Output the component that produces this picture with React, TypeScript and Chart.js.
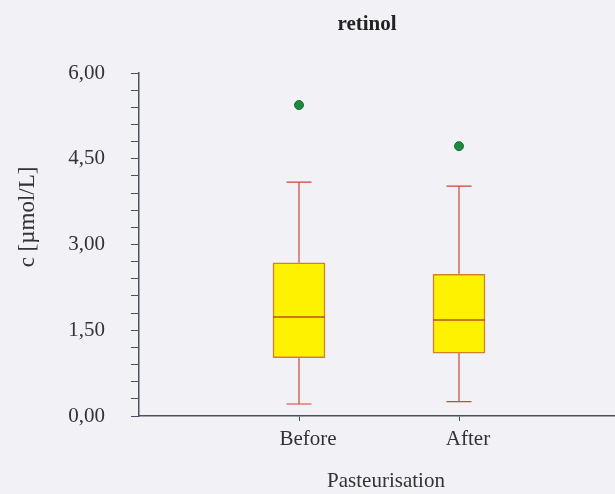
import React, { useEffect, useRef } from "react";
import { Chart, registerables } from "chart.js";

Chart.register(...registerables);

// Box-plot summary per group
const categories = ["Before", "After"];
const whiskerLow = [0.21, 0.25];
const quartile1 = [1.02, 1.1];
const medians = [1.73, 1.68];
const quartile3 = [2.68, 2.48];
const whiskerHigh = [4.09, 4.02];
const outliers = [5.44, 4.72];

const chartTitle = "retinol";
const xTitle = "Pasteurisation";
const yTitle = "c [µmol/L]";

const FONT = "'Liberation Serif', 'Times New Roman', serif";
const AXIS_COLOR = "#4a5260";
const TEXT_COLOR = "#333333";
const BG = "#f1f1f6";

const fmt = (v: number) => v.toFixed(2).replace(".", ",");

const boxPlugin = {
  id: "boxExtras",
  beforeDraw(chart: any) {
    const { ctx, width, height } = chart;
    ctx.save();
    ctx.fillStyle = BG;
    ctx.fillRect(0, 0, width, height);
    ctx.restore();
  },
  beforeDatasetsDraw(chart: any) {
    const { ctx } = chart;
    const xs = chart.scales.x;
    const ys = chart.scales.y;
    ctx.save();
    ctx.strokeStyle = "#d0453a";
    ctx.lineWidth = 1.2;
    categories.forEach((_, i) => {
      const x = xs.getPixelForValue(i + 1);
      const yLo = ys.getPixelForValue(whiskerLow[i]);
      const yHi = ys.getPixelForValue(whiskerHigh[i]);
      const yQ1 = ys.getPixelForValue(quartile1[i]);
      const yQ3 = ys.getPixelForValue(quartile3[i]);
      const cap = 12.5;
      ctx.beginPath();
      ctx.moveTo(x, yQ3);
      ctx.lineTo(x, yHi);
      ctx.moveTo(x - cap, yHi);
      ctx.lineTo(x + cap, yHi);
      ctx.moveTo(x, yQ1);
      ctx.lineTo(x, yLo);
      ctx.moveTo(x - cap, yLo);
      ctx.lineTo(x + cap, yLo);
      ctx.stroke();
    });
    ctx.restore();
  },
  afterDatasetsDraw(chart: any) {
    const { ctx } = chart;
    const xs = chart.scales.x;
    const ys = chart.scales.y;
    ctx.save();
    ctx.strokeStyle = "#b8502a";
    ctx.lineWidth = 1.5;
    categories.forEach((_, i) => {
      const x = xs.getPixelForValue(i + 1);
      const y = ys.getPixelForValue(medians[i]);
      ctx.beginPath();
      ctx.moveTo(x - 26, y);
      ctx.lineTo(x + 26, y);
      ctx.stroke();
    });
    ctx.restore();
  },
  afterDraw(chart: any) {
    const { ctx } = chart;
    ctx.save();
    ctx.fillStyle = "#222222";
    ctx.textAlign = "center";
    ctx.textBaseline = "middle";
    ctx.font = `bold 21px ${FONT}`;
    ctx.fillText(chartTitle, 367, 25);
    ctx.font = `21px ${FONT}`;
    ctx.fillStyle = TEXT_COLOR;
    ctx.fillText(xTitle, 386, 481);
    ctx.font = `23px ${FONT}`;
    ctx.translate(28, 217);
    ctx.rotate(-Math.PI / 2);
    ctx.fillText(yTitle, 0, 0);
    ctx.restore();
  },
};

export default function App() {
  const ref = useRef<HTMLCanvasElement>(null);

  useEffect(() => {
    if (!ref.current) return;
    const chart = new Chart(ref.current, {
      type: "bar",
      data: {
        datasets: [
          {
            type: "bar",
            data: categories.map((_, i) => ({ x: i + 1, y: [quartile1[i], quartile3[i]] })) as any,
            backgroundColor: "#fff200",
            borderColor: "#d0822a",
            borderWidth: 1.5,
            borderSkipped: false,
            barThickness: 52,
          },
          {
            type: "scatter",
            data: outliers.map((v, i) => ({ x: i + 1, y: v })),
            backgroundColor: "#1f8a3c",
            borderColor: "#17703a",
            borderWidth: 1,
            pointRadius: 4.5,
          },
        ],
      },
      options: {
        animation: false,
        responsive: false,
        layout: { autoPadding: false, padding: { top: 73, left: 0, right: 0, bottom: 0 } },
        plugins: {
          legend: { display: false },
          tooltip: { enabled: false },
          title: { display: false },
        },
        scales: {
          x: {
            type: "linear",
            min: 0,
            max: 2.975,
            offset: false,
            afterBuildTicks: (scale: any) => {
              scale.ticks = categories.map((_, i) => ({ value: i + 1 }));
            },
            afterFit: (scale: any) => {
              scale.height = 78;
              scale.paddingLeft = 0;
              scale.paddingRight = 0;
            },
            ticks: {
              autoSkip: false,
              maxRotation: 0,
              padding: 6,
              labelOffset: 9,
              color: TEXT_COLOR,
              font: { family: FONT, size: 21 },
              callback: (v: any) => categories[Math.round(v) - 1] ?? "",
            },
            grid: {
              display: true,
              offset: false,
              drawOnChartArea: false,
              drawTicks: true,
              tickLength: 5,
              color: AXIS_COLOR,
            },
            border: { display: true, color: AXIS_COLOR, width: 1.5 },
          },
          y: {
            type: "linear",
            min: 0,
            max: 6,
            afterFit: (scale: any) => {
              scale.width = 139;
            },
            ticks: {
              stepSize: 0.3,
              autoSkip: false,
              padding: 26,
              color: TEXT_COLOR,
              font: { family: FONT, size: 21 },
              callback: (v: any) => {
                const r = v / 1.5;
                return Math.abs(r - Math.round(r)) < 1e-6 ? fmt(v) : "";
              },
            },
            grid: {
              display: true,
              drawOnChartArea: false,
              drawTicks: true,
              tickLength: 8,
              color: AXIS_COLOR,
            },
            border: { display: true, color: AXIS_COLOR, width: 1.5 },
          },
        },
      },
      plugins: [boxPlugin],
    });
    return () => chart.destroy();
  }, []);

  return (
    <div style={{ position: "fixed", left: 0, top: 0, width: 615, height: 494, background: BG }}>
      <canvas ref={ref} width={615} height={494} style={{ display: "block" }} />
    </div>
  );
}
